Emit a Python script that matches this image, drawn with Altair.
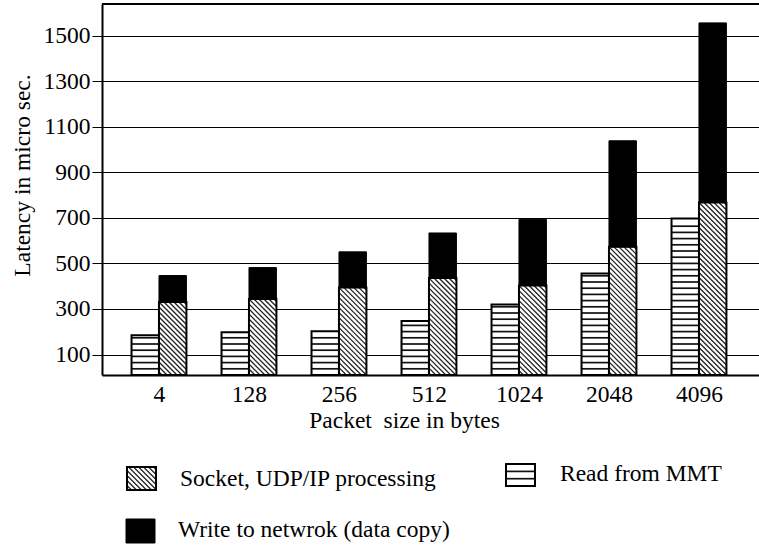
import altair as alt
import pandas as pd

# Latency components per packet size (micro seconds)
sizes = ["4", "128", "256", "512", "1024", "2048", "4096"]
read_mmt = [185, 198, 202, 247, 320, 456, 698]
socket_udp = [331, 344, 394, 436, 403, 573, 768]
write_net = [116, 138, 157, 198, 291, 466, 789]

legend_labels = ["Socket, UDP/IP processing", "Read from MMT", "Write to netwrok (data copy)"]

FONT = "Liberation Serif"
FS = 23.5

# plot geometry
W, H = 657, 371
LEFT, TOP = 102, 4
XDOM = [-0.633, 6.667]
YDOM = [10, 1640]
PX_X = W / (XDOM[1] - XDOM[0])
PX_Y = H / (YDOM[1] - YDOM[0])
BW = 0.305  # width of one bar in group units


def x_of_px(px):
    return XDOM[0] + (px - LEFT) / PX_X


def y_of_px(py):
    return YDOM[0] + (TOP + H - py) / PX_Y


def diag_lines(x0, x1, y0, y1, step=5.0):
    """Back-slash hatching clipped to the box [x0,x1] x [y0,y1]."""
    w = (x1 - x0) * PX_X
    h = (y1 - y0) * PX_Y
    out = []
    c = -w + step / 2
    while c < h:
        u0, u1 = max(0.0, -c), min(w, h - c)
        if u1 > u0:
            out.append(dict(x=x0 + u0 / PX_X, y=y1 - (u0 + c) / PX_Y,
                            x2=x0 + u1 / PX_X, y2=y1 - (u1 + c) / PX_Y))
        c += step
    return out


def stripes(x0, x1, y0, y1, step=6.2):
    """Horizontal line fill for the box [x0,x1] x [y0,y1]."""
    h = (y1 - y0) * PX_Y
    out = []
    v = step
    while v < h - 2:
        y = y0 + v / PX_Y
        out.append(dict(x=x0, x2=x1, y=y, y2=y))
        v += step
    return out


base = YDOM[0]
hatched, black = [], []
stripe_rows, hatch_rows = [], []
for i, (r, s, w) in enumerate(zip(read_mmt, socket_udp, write_net)):
    hatched.append(dict(x=i - BW, x2=i, y=base, y2=r))
    stripe_rows += stripes(i - BW, i, base, r)
    hatched.append(dict(x=i, x2=i + BW, y=base, y2=s))
    hatch_rows += diag_lines(i, i + BW, base, s)
    black.append(dict(x=i, x2=i + BW, y=s, y2=s + w))

# legend swatches
sock_box = (x_of_px(127), x_of_px(156), y_of_px(490), y_of_px(467))
read_box = (x_of_px(506), x_of_px(535), y_of_px(486), y_of_px(464))
write_box = (x_of_px(126), x_of_px(155), y_of_px(543), y_of_px(519))
for bx in (sock_box, read_box):
    hatched.append(dict(x=bx[0], x2=bx[1], y=bx[2], y2=bx[3]))
hatch_rows += diag_lines(*sock_box, step=5.0)
stripe_rows += stripes(*read_box, step=7.3)
black.append(dict(x=write_box[0], x2=write_box[1], y=write_box[2], y2=write_box[3]))

legend_text = pd.DataFrame({
    "x": [x_of_px(180), x_of_px(560), x_of_px(178)],
    "y": [y_of_px(486), y_of_px(481), y_of_px(537)],
    "label": legend_labels,
})

label_expr = "[" + ",".join("'%s'" % s for s in sizes) + "][datum.value]"

X = alt.X(
    "x:Q",
    scale=alt.Scale(domain=XDOM, nice=False, zero=False),
    axis=alt.Axis(
        values=list(range(len(sizes))), labelExpr=label_expr, ticks=False, grid=False,
        domainColor="black", domainWidth=2, labelFont=FONT, labelFontSize=FS,
        labelColor="black", labelBaseline="alphabetic", labelPadding=26,
        title="Packet\u00a0 size in bytes", titleFont=FONT, titleFontSize=FS,
        titleFontWeight="normal", titleColor="black", titleX=302, titleY=52,
        titleBaseline="alphabetic", labelFlush=False,
    ),
)
Y = alt.Y(
    "y:Q",
    scale=alt.Scale(domain=YDOM, nice=False, zero=False),
    axis=alt.Axis(
        values=list(range(100, 1600, 200)), format="d", grid=True, gridColor="black",
        gridWidth=1, gridOpacity=1, tickSize=10, tickColor="black", tickWidth=1,
        domainColor="black", domainWidth=2, labelFont=FONT, labelFontSize=FS,
        labelColor="black", labelPadding=2,
        title="Latency in micro sec.", titleFont=FONT, titleFontSize=FS,
        titleFontWeight="normal", titleColor="black", titleAngle=270,
        titleX=-79.5, titleY=171, titleBaseline="middle", titleAlign="center",
    ),
)

hatched_df = pd.DataFrame(hatched)
white_fill = alt.Chart(hatched_df).mark_rect(fill="white", strokeWidth=0).encode(
    x=X, x2="x2:Q", y=Y, y2="y2:Q")
stripe_layer = alt.Chart(pd.DataFrame(stripe_rows)).mark_rule(
    color="#111111", strokeWidth=1.7).encode(x=X, x2="x2:Q", y=Y, y2="y2:Q")
hatch_layer = alt.Chart(pd.DataFrame(hatch_rows)).mark_rule(
    color="#222222", strokeWidth=1.3).encode(x=X, x2="x2:Q", y=Y, y2="y2:Q")
outline = alt.Chart(hatched_df).mark_rect(
    fill="white", fillOpacity=0, stroke="black", strokeWidth=2).encode(
    x=X, x2="x2:Q", y=Y, y2="y2:Q")
black_layer = alt.Chart(pd.DataFrame(black)).mark_rect(
    fill="black", stroke="black", strokeWidth=1).encode(x=X, x2="x2:Q", y=Y, y2="y2:Q")
text_layer = alt.Chart(legend_text).mark_text(
    font=FONT, fontSize=FS, color="black", align="left", baseline="alphabetic").encode(
    x=X, y=Y, text="label:N")
frame_top = alt.Chart(legend_text).mark_rule(color="black", strokeWidth=2).encode(
    x=alt.value(0), x2=alt.value(W), y=alt.value(0))

chart = alt.layer(
    white_fill, stripe_layer, hatch_layer, outline, black_layer, text_layer, frame_top
).properties(
    width=W, height=H,
    autosize=alt.AutoSizeParams(type="none"),
    padding={"left": LEFT, "top": TOP, "right": 759 - LEFT - W, "bottom": 547 - TOP - H},
    background="white",
).configure_view(strokeWidth=0)

chart.save("out.html", embed_options={"renderer": "svg", "actions": False})
